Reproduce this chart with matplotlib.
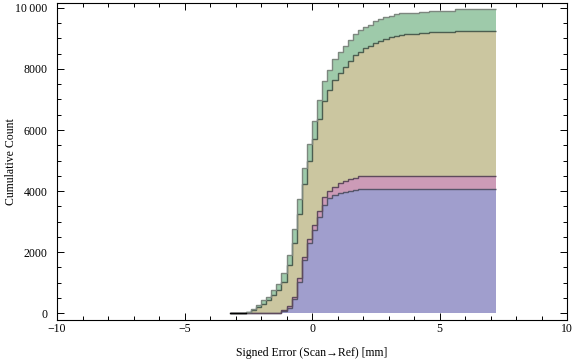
import numpy as np
import matplotlib
matplotlib.use("Agg")
from matplotlib import pyplot as plt

# bin edges (mm), width 0.2
edges = np.round(np.arange(-3.2, 7.2001, 0.2), 2)

# cumulative counts per series, one value per bin
blue_cum = [0] * 9 + [22, 87, 164, 458, 1036, 1745, 2291, 2727, 3142, 3546,
                      3764, 3873, 3949, 3982, 4015, 4037] + [4069] * 27
pink_cum = [0] * 10 + [22, 87, 88, 110, 110, 131, 153, 197, 251, 251,
                       273, 328, 349, 382, 403] + [426] * 27
olive_cum = [0] * 3 + [40, 98, 196, 314, 425, 589, 740, 925, 1319, 1739,
                       2094, 2367, 2575, 2837, 3011, 3142, 3295, 3491, 3600,
                       3742, 3862, 4015, 4069, 4178, 4255, 4364, 4429, 4484,
                       4538, 4582, 4615, 4637, 4637, 4637, 4669, 4669] \
    + [4702] * 5 + [4746] * 8
green_cum = [0] * 3 + [10, 33, 76, 118, 120, 174, 187, 275, 335, 464, 490,
                       520, 535, 565, 630, 660, 670, 675, 685, 690, 690, 692,
                       695, 698, 700, 700, 702, 705] + [705] * 15 + [709] * 6

series = [blue_cum, pink_cum, olive_cum, green_cum]
fills = ['#a09ecd', '#cc9bb7', '#cbc6a0', '#9ecaaa']
lines = ['#55556a', '#5e4a5c', '#4c5e50', '#7d877f']

yticks = [0, 2000, 4000, 6000, 8000, 10000]
ytick_labels = ['0', '2000', '4000', '6000', '8000', '10\u2009000']
xticks = [-10, -5, 0, 5, 10]

plt.rcParams['font.family'] = ['Liberation Serif', 'DejaVu Serif']

fig = plt.figure(figsize=(5.76, 3.6), dpi=100)
ax = fig.add_axes([57 / 576, 1 - 320 / 360, 510 / 576, 317 / 360])

bottom = np.zeros(len(edges) - 1)
tops = []
for vals, fc in zip(series, fills):
    top = bottom + np.array(vals, dtype=float)
    ax.stairs(top, edges, baseline=bottom, fill=True, color=fc, lw=0)
    tops.append(top)
    bottom = top

for top, lc in zip(tops, lines):
    ax.stairs(top, edges, baseline=None, color=lc, lw=1.0)

# zero stretch on the left shows as a black line
zero = tops[-1] == 0
ax.plot([edges[0], edges[np.argmax(~zero)]], [0, 0], color='black', lw=1.0)

ax.set_xlim(-10, 10)
ax.set_ylim(-219, 10157)
ax.set_xticks(xticks)
ax.set_xticks(np.arange(-10, 11, 1), minor=True)
ax.set_yticks(yticks)
ax.set_yticklabels(ytick_labels)
ax.set_yticks(np.arange(0, 10001, 500), minor=True)
ax.tick_params(which='both', direction='in', top=True, right=True,
               labelsize=8.5, width=0.7)
ax.tick_params(which='major', length=4.8)
ax.tick_params(which='minor', length=2.8)
ax.tick_params(axis='y', pad=7)
ax.tick_params(axis='x', pad=2.5)
for sp in ax.spines.values():
    sp.set_linewidth(0.8)

ax.set_xlabel('Signed Error (Scan\u2192Ref) [mm]', fontsize=8.5, labelpad=8)
ax.set_ylabel('Cumulative Count', fontsize=8.5)
ax.yaxis.set_label_coords(-0.078, 0.5)

fig.savefig('out.png', dpi=100)
